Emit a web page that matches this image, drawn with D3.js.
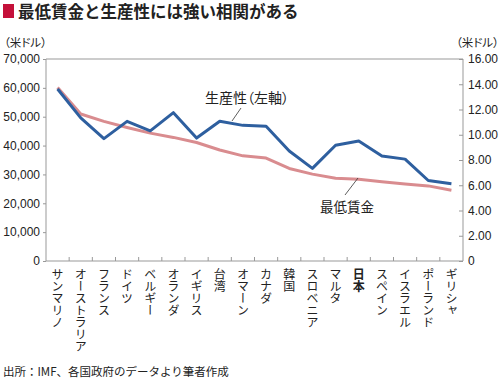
<!DOCTYPE html>
<html>
  <head>
    <meta charset="utf-8">
    <title>最低賃金と生産性</title>
    <script src="https://d3js.org/d3.v7.min.js"></script>
    <style>
      body {
        margin: 0;
        font-family: "Noto Sans CJK JP", "Noto Sans", sans-serif;
        background: #fff;
      }
      .axis text {
        font-size: 12px;
        fill: #222;
      }
      .axis path, .axis line {
        stroke: #999;
      }
      .country {
        font-size: 12px;
        fill: #222;
        writing-mode: vertical-rl;
      }
      .palt {
        font-feature-settings: "palt";
      }
    </style>
  </head>
  <body>
    <div id="chart"></div>
    <script>
      // countries, left to right
      const countries = ["サンマリノ", "オーストラリア", "フランス", "ドイツ", "ベルギー",
        "オランダ", "イギリス", "台湾", "オマーン", "カナダ", "韓国", "スロベニア",
        "マルタ", "日本", "スペイン", "イスラエル", "ポーランド", "ギリシャ"];
      // productivity (US$, left axis)
      const productivity = [59600, 49600, 42400, 48400, 45100, 51400, 42600, 48400, 47000,
        46700, 38100, 32100, 40100, 41600, 36400, 35300, 27900, 26800];
      // minimum wage (US$ per hour, right axis)
      const minWage = [13.75, 11.64, 11.06, 10.58, 10.13, 9.79, 9.39, 8.79, 8.33,
        8.15, 7.33, 6.88, 6.56, 6.48, 6.27, 6.09, 5.95, 5.61];
      const leftTicks = [0, 10000, 20000, 30000, 40000, 50000, 60000, 70000];
      const rightTicks = [0, 2, 4, 6, 8, 10, 12, 14, 16];

      const width = 500, height = 381;
      const plotL = 46, plotR = 463, plotT = 59, plotB = 261;

      const svg = d3.select("#chart").append("svg")
        .attr("width", width)
        .attr("height", height);

      // title
      svg.append("rect")
        .attr("x", 3).attr("y", 4)
        .attr("width", 11).attr("height", 14)
        .attr("fill", "#c4103a");
      svg.append("text")
        .attr("x", 18).attr("y", 18)
        .attr("font-size", 16.5)
        .attr("font-weight", "bold")
        .attr("fill", "#222")
        .text("最低賃金と生産性には強い相関がある");

      svg.append("text")
        .attr("class", "palt")
        .attr("x", 4).attr("y", 47)
        .attr("font-size", 11.5).attr("fill", "#222")
        .text("（米ドル）");
      svg.append("text")
        .attr("class", "palt")
        .attr("x", 456).attr("y", 47)
        .attr("font-size", 11.5).attr("fill", "#222")
        .text("（米ドル）");

      const x = d3.scaleBand().domain(countries).range([plotL, plotR]);
      const yL = d3.scaleLinear().domain([0, 70000]).range([plotB, plotT]);
      const yR = d3.scaleLinear().domain([0, 16]).range([plotB, plotT]);

      // frame top + bottom
      svg.append("line")
        .attr("x1", plotL).attr("x2", plotR)
        .attr("y1", plotT).attr("y2", plotT)
        .attr("stroke", "#999");
      svg.append("line")
        .attr("x1", plotL).attr("x2", plotR)
        .attr("y1", plotB).attr("y2", plotB)
        .attr("stroke", "#999");

      svg.append("g")
        .attr("class", "axis")
        .attr("transform", `translate(${plotL},0)`)
        .call(d3.axisLeft(yL).tickValues(leftTicks).tickSize(3).tickPadding(3)
          .tickFormat(d3.format(",")))
        .call(g => g.select(".domain").attr("d", `M0,${plotT}V${plotB}`));

      svg.append("g")
        .attr("class", "axis")
        .attr("transform", `translate(${plotR},0)`)
        .call(d3.axisRight(yR).tickValues(rightTicks).tickSize(-4).tickPadding(5)
          .tickFormat(d => d === 0 ? "0" : d.toFixed(2)))
        .call(g => g.select(".domain").attr("d", `M0,${plotT}V${plotB}`));

      // category ticks (inward) at band edges
      svg.append("g")
        .selectAll("line")
        .data(countries.slice(1))
        .join("line")
        .attr("x1", d => x(d)).attr("x2", d => x(d))
        .attr("y1", plotB).attr("y2", plotB - 4)
        .attr("stroke", "#999");

      svg.append("g")
        .selectAll("text")
        .data(countries)
        .join("text")
        .attr("class", "country")
        .attr("x", d => x(d) + x.bandwidth() / 2)
        .attr("y", 268)
        .attr("font-weight", d => d === "日本" ? "bold" : null)
        .text(d => d);

      const cx = (d, i) => x(countries[i]) + x.bandwidth() / 2;

      svg.append("path")
        .datum(minWage)
        .attr("fill", "none")
        .attr("stroke", "#d98c8f")
        .attr("stroke-width", 3)
        .attr("stroke-linejoin", "round")
        .attr("d", d3.line().x(cx).y(d => yR(d)));

      svg.append("path")
        .datum(productivity)
        .attr("fill", "none")
        .attr("stroke", "#2e5f9f")
        .attr("stroke-width", 3)
        .attr("stroke-linejoin", "round")
        .attr("d", d3.line().x(cx).y(d => yL(d)));

      // labels with leader lines
      svg.append("text")
        .attr("class", "palt")
        .attr("x", 205).attr("y", 103)
        .attr("font-size", 14).attr("fill", "#222")
        .text("生産性（左軸）");
      svg.append("line")
        .attr("x1", 241).attr("y1", 108)
        .attr("x2", 232).attr("y2", 121)
        .attr("stroke", "#333").attr("stroke-width", 0.8);

      svg.append("text")
        .attr("x", 320).attr("y", 212)
        .attr("font-size", 13.5).attr("fill", "#222")
        .text("最低賃金");
      svg.append("line")
        .attr("x1", 358).attr("y1", 178)
        .attr("x2", 345).attr("y2", 195)
        .attr("stroke", "#333").attr("stroke-width", 0.8);

      svg.append("text")
        .attr("x", 3).attr("y", 376)
        .attr("font-size", 11.5).attr("fill", "#222")
        .text("出所：IMF、各国政府のデータより筆者作成");
    </script>
  </body>
</html>
